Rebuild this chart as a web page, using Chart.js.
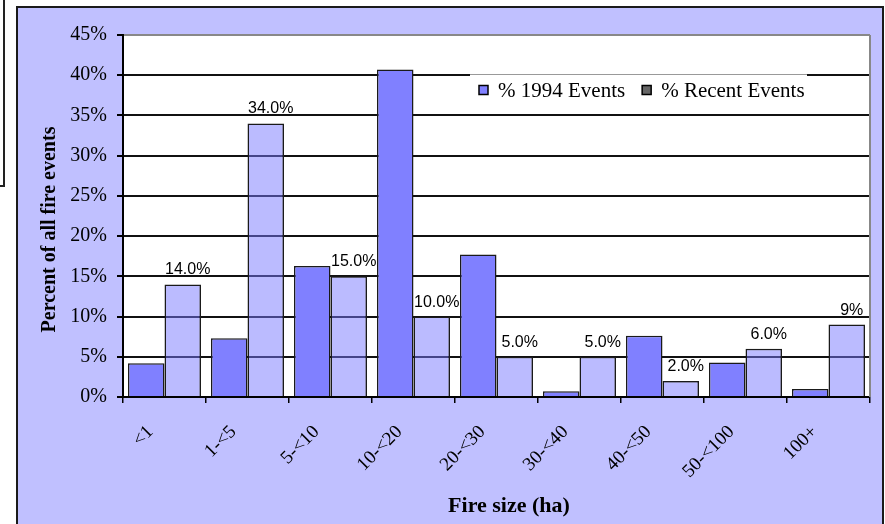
<!DOCTYPE html>
<html lang="en">
<head>
  <meta charset="UTF-8">
  <title>Fire size distribution</title>
  <script src="https://cdn.jsdelivr.net/npm/chart.js"></script>
  <style>
    body {
      margin: 0;
      width: 885px;
      height: 524px;
      overflow: hidden;
      position: relative;
      background: #fff;
    }
    #sideBox {
      position: absolute;
      left: -10px;
      top: -10px;
      width: 11px;
      height: 193px;
      border: 2px solid #222;
    }
    #panel {
      position: absolute;
      left: 16px;
      top: 6px;
      width: 864px;
      height: 522px;
      background: #C0C0FF;
      border: 2px solid #1a1a1a;
    }
    canvas { display: block; }
  </style>
</head>
<body>

  <div id="sideBox"></div>
  <div id="panel">
    <canvas id="fireChart" width="864" height="522"></canvas>
  </div>

  <script>
    const sizeClasses = ['<1', '1-<5', '5-<10', '10-<20', '20-<30', '30-<40', '40-<50', '50-<100', '100+'];
    const events1994 = [4.2, 7.3, 16.3, 40.7, 17.7, 0.7, 7.6, 4.3, 1.0];
    const eventsRecent = [14, 34, 15, 10, 5, 5, 2, 6, 9];
    const recentLabels = ['14.0%', '34.0%', '15.0%', '10.0%', '5.0%', '5.0%', '2.0%', '6.0%', '9%'];
    const yTitle = 'Percent of all fire events';
    const xTitle = 'Fire size (ha)';

    const serif = '"Liberation Serif", "Times New Roman", serif';

    // white plot area + grey right edge
    const plotFrame = {
      id: 'plotFrame',
      beforeDraw(chart) {
        const { ctx, chartArea: a } = chart;
        ctx.save();
        ctx.fillStyle = '#fff';
        ctx.fillRect(a.left, a.top, a.right - a.left, a.bottom - a.top);
        ctx.restore();
      },
      afterDraw(chart) {
        const { ctx, chartArea: a } = chart;
        ctx.save();
        ctx.strokeStyle = '#888';
        ctx.lineWidth = 2;
        ctx.beginPath();
        ctx.moveTo(a.right, a.top);
        ctx.lineTo(a.right, a.bottom);
        ctx.stroke();
        ctx.restore();
      }
    };

    // value labels over the recent bars
    const barLabels = {
      id: 'barLabels',
      afterDatasetsDraw(chart) {
        const { ctx } = chart;
        const meta = chart.getDatasetMeta(1);
        ctx.save();
        ctx.font = '16px "Liberation Sans", Arial, sans-serif';
        ctx.fillStyle = '#000';
        ctx.textAlign = 'center';
        ctx.textBaseline = 'alphabetic';
        meta.data.forEach((bar, i) => {
          ctx.fillText(recentLabels[i], bar.x + 5, bar.y - 10);
        });
        ctx.restore();
      }
    };

    // legend sitting inside the plot, top right
    const insetLegend = {
      id: 'insetLegend',
      afterDraw(chart) {
        const { ctx, chartArea: a } = chart;
        const left = a.left + 347, top = a.top + 39.5;
        const right = a.right - 63, bottom = a.top + 71;
        ctx.save();
        ctx.fillStyle = '#fff';
        ctx.fillRect(left, top - 1, right - left, bottom - top + 1);
        ctx.strokeStyle = '#999';
        ctx.lineWidth = 1;
        ctx.beginPath();
        ctx.moveTo(left, top);
        ctx.lineTo(right, top);
        ctx.stroke();

        ctx.font = '21px ' + serif;
        ctx.textBaseline = 'alphabetic';
        const base = top + 22;
        let x = left + 9;
        chart.data.datasets.forEach(ds => {
          ctx.fillStyle = ds.legendColor;
          ctx.fillRect(x, base - 11, 9, 9);
          ctx.strokeStyle = '#000';
          ctx.lineWidth = 1.5;
          ctx.strokeRect(x, base - 11, 9, 9);
          x += 19;
          ctx.fillStyle = '#000';
          ctx.fillText(ds.label, x, base);
          x += ctx.measureText(ds.label).width + 17;
        });
        ctx.restore();
      }
    };

    // axis titles, placed like the original (a little off the plot centre)
    const axisTitles = {
      id: 'axisTitles',
      afterDraw(chart) {
        const { ctx, chartArea: a } = chart;
        ctx.save();
        ctx.fillStyle = '#000';
        ctx.textAlign = 'center';
        ctx.textBaseline = 'alphabetic';

        ctx.font = 'bold 22px ' + serif;
        ctx.fillText(xTitle, (a.left + a.right) / 2 + 12.5, a.bottom + 115);

        ctx.font = 'bold 20px ' + serif;
        ctx.translate(a.left - 68, (a.top + a.bottom) / 2 + 13.5);
        ctx.rotate(-Math.PI / 2);
        ctx.fillText(yTitle, 0, 0);
        ctx.restore();
      }
    };

    const ctx = document.getElementById('fireChart').getContext('2d');
    new Chart(ctx, {
      type: 'bar',
      data: {
        labels: sizeClasses,
        datasets: [
          {
            label: '% 1994 Events',
            data: events1994,
            backgroundColor: '#8080FF',
            borderColor: '#1a1a1a',
            borderWidth: 1.5,
            legendColor: '#8080FF'
          },
          {
            label: '% Recent Events',
            data: eventsRecent,
            backgroundColor: 'rgba(120, 120, 255, 0.5)',
            borderColor: '#1a1a1a',
            borderWidth: 1.5,
            legendColor: '#666'
          }
        ]
      },
      options: {
        responsive: false,
        animation: false,
        events: [],
        layout: { padding: { top: 27, right: 12, left: 0, bottom: 0 } },
        datasets: {
          bar: { barPercentage: 1, categoryPercentage: 0.88 }
        },
        scales: {
          x: {
            afterFit(scale) { scale.height = 133; },
            grid: {
              drawOnChartArea: false,
              color: '#000',
              lineWidth: 1.5,
              tickLength: 6
            },
            border: { color: '#000', width: 2 },
            ticks: {
              color: '#000',
              font: { family: serif, size: 19 },
              minRotation: 45,
              maxRotation: 45,
              autoSkip: false,
              labelOffset: -14,
              padding: 18
            }
          },
          y: {
            min: 0,
            max: 45,
            afterFit(scale) { scale.width = 105; },
            grid: {
              color: c => (c.tick && c.tick.value === 45 ? '#888' : '#111'),
              tickColor: '#000',
              lineWidth: 2,
              tickLength: 6
            },
            border: { color: '#000', width: 2 },
            ticks: {
              stepSize: 5,
              color: '#000',
              padding: 10,
              font: { family: serif, size: 20 },
              callback: v => v + '%'
            }
          }
        },
        plugins: {
          legend: { display: false },
          title: { display: false },
          tooltip: { enabled: false }
        }
      },
      plugins: [plotFrame, barLabels, insetLegend, axisTitles]
    });
  </script>

</body>
</html>
